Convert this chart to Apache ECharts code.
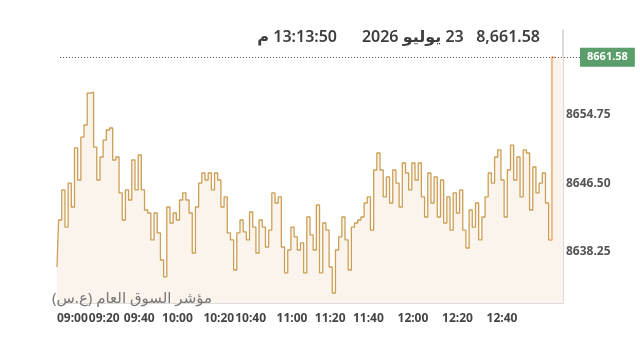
<!DOCTYPE html>
<html><head><meta charset="utf-8">
<script src="https://cdn.jsdelivr.net/npm/echarts@6/dist/echarts.min.js"></script>
<style>html,body{margin:0;padding:0;background:#fff}#c{width:640px;height:339px}</style>
</head><body>
<div id="c" dir="rtl"></div>
<script>
// ---- data ----
const indexValues = [
8636.45, 8642.08, 8645.68, 8641.24, 8646.51, 8643.64, 8650.71, 8646.87, 8652.02, 8653.46,
8657.29, 8657.41, 8650.82, 8646.87, 8649.63, 8651.66, 8652.86, 8653.10, 8649.27, 8649.63,
8645.32, 8642.08, 8645.68, 8644.48, 8649.27, 8645.68, 8649.87, 8645.68, 8643.28, 8642.92,
8639.69, 8642.92, 8640.53, 8637.29, 8635.26, 8643.64, 8641.72, 8642.92, 8642.08, 8644.48,
8645.32, 8644.48, 8642.92, 8638.13, 8643.64, 8646.51, 8647.71, 8646.87, 8647.71, 8645.68,
8647.71, 8646.87, 8643.64, 8644.84, 8640.53, 8639.69, 8636.09, 8640.53, 8642.08, 8640.65,
8639.69, 8643.04, 8641.24, 8638.13, 8642.08, 8641.24, 8638.85, 8640.88, 8645.32, 8644.12,
8644.84, 8638.85, 8635.74, 8638.49, 8641.24, 8640.05, 8638.49, 8639.33, 8635.74, 8642.44,
8640.29, 8638.49, 8643.88, 8635.74, 8641.72, 8640.88, 8636.45, 8633.34, 8638.49, 8640.05,
8642.44, 8639.69, 8636.09, 8641.24, 8641.72, 8642.08, 8642.44, 8644.12, 8644.84, 8640.88,
8648.07, 8650.11, 8648.07, 8644.84, 8647.23, 8644.12, 8648.07, 8646.51, 8643.64, 8648.91,
8647.71, 8645.68, 8648.91, 8646.87, 8648.91, 8644.84, 8642.44, 8647.71, 8644.12, 8647.23,
8642.44, 8646.87, 8641.72, 8644.84, 8640.88, 8645.32, 8642.92, 8645.68, 8640.88, 8638.73,
8643.28, 8641.24, 8644.12, 8639.69, 8642.44, 8644.84, 8647.71, 8646.51, 8649.63, 8650.47,
8646.87, 8642.44, 8648.07, 8651.06, 8646.87, 8649.63, 8644.84, 8650.47, 8650.11, 8643.28,
8648.43, 8645.32, 8646.51, 8647.71, 8644.12, 8639.69
];
const lastValue = 8661.58;
const sampleCount = 160;
const tickLabels = ['09:00','09:20','09:40','10:00','10:20','10:40','11:00','11:20','11:40','12:00','12:20','12:40'];
const tickIndex  = [0, 10, 21, 33, 46, 56, 69, 81, 93, 107, 121, 135];
const yTicks = [8638.25, 8646.50, 8654.75];
const yMin = 8632.14, yMax = 8664.84;
const headerValue = '8,661.58';
const headerDate = '23 يوليو 2026';
const headerTime = '13:13:50 م';
const indexName = 'مؤشر السوق العام (ع.س)';

// ---- build ----
const categories = Array.from({length: sampleCount}, (_, i) => i);
const lastIdx = indexValues.length - 1;
const spikeData = categories.map(i => i === lastIdx ? indexValues[lastIdx] : (i === lastIdx + 1 ? lastValue : '-'));
const tailData = categories.map(i => i > lastIdx ? lastValue : '-');
const FONT = "'Noto Sans', 'DejaVu Sans', sans-serif";
const FILL = '#faf4ed';

const chart = echarts.init(document.getElementById('c'), null, {renderer: 'canvas'});
chart.setOption({
  animation: false,
  backgroundColor: '#fff',
  textStyle: {fontFamily: FONT},
  grid: [
    {left: 57, right: 77, top: 30, bottom: 36, outerBoundsMode: 'none'},
    {left: 60, right: 60, top: 30, bottom: 36, outerBoundsMode: 'none'}
  ],
  xAxis: [{
    type: 'category', gridIndex: 0, data: categories, boundaryGap: false,
    axisLine: {show: true, lineStyle: {color: '#dcdcdc', width: 1}},
    axisTick: {show: false},
    splitLine: {show: false},
    axisLabel: {
      interval: (i) => tickIndex.indexOf(i) >= 0,
      formatter: (v, i) => { const k = tickIndex.indexOf(Number(v)); return k >= 0 ? tickLabels[k] : ''; },
      align: 'left', margin: 10, color: '#444', fontSize: 12, fontWeight: 'bold', fontFamily: FONT,
      hideOverlap: false
    }
  }, {
    type: 'value', gridIndex: 1, min: 0, max: 1, show: false
  }],
  yAxis: [{
    type: 'value', gridIndex: 0, position: 'right', min: yMin, max: yMax, scale: true,
    axisLine: {show: true, lineStyle: {color: '#cfcfcf', width: 1.5}},
    axisTick: {show: false},
    splitLine: {show: false},
    axisLabel: {customValues: yTicks, formatter: v => Number(v).toFixed(2), margin: 3,
      color: '#555', fontSize: 12, fontWeight: 'bold', fontFamily: FONT}
  }, {
    type: 'value', gridIndex: 1, min: yMin, max: yMax, scale: true, show: false
  }],
  series: [{
    type: 'line', xAxisIndex: 0, yAxisIndex: 0, data: indexValues, symbol: 'none', step: 'middle',
    lineStyle: {color: '#cc9f55', width: 1.3},
    areaStyle: {color: FILL, opacity: 1, origin: 'start'},
    z: 3
  }, {
    type: 'line', xAxisIndex: 0, yAxisIndex: 0, data: spikeData, symbol: 'none', step: 'middle',
    lineStyle: {color: '#f1b68c', width: 2},
    areaStyle: {color: FILL, opacity: 1, origin: 'start'},
    z: 4
  }, {
    type: 'line', xAxisIndex: 0, yAxisIndex: 0, data: tailData, symbol: 'none',
    lineStyle: {width: 0, opacity: 0},
    areaStyle: {color: FILL, opacity: 1, origin: 'start'},
    z: 2
  }, {
    type: 'line', xAxisIndex: 1, yAxisIndex: 1, data: [[0, lastValue]], symbol: 'none', showSymbol: false,
    lineStyle: {width: 0, opacity: 0},
    markLine: {
      silent: true, symbol: 'none',
      lineStyle: {color: '#555', width: 1, type: [1, 2]},
      label: {position: 'end', distance: 0, formatter: lastValue.toFixed(2),
        backgroundColor: '#5a9e6b', color: '#fff', fontWeight: 'bold', fontSize: 11,
        padding: [4, 7, 4, 7], fontFamily: FONT},
      data: [{yAxis: lastValue}]
    },
    z: 5
  }],
  graphic: [
    {type: 'text', x: 540, y: 37, z: 10, style: {text: headerValue + '   ' + headerDate, fill: '#3d3d3d',
      font: "600 16px " + FONT, textAlign: 'right', align: 'right', textVerticalAlign: 'middle', verticalAlign: 'middle'}},
    {type: 'text', x: 337, y: 37, z: 10, style: {text: headerTime, fill: '#3d3d3d',
      font: "600 16px " + FONT, textAlign: 'right', align: 'right', textVerticalAlign: 'middle', verticalAlign: 'middle'}},
    {type: 'text', x: 212, y: 299, z: 10, style: {text: indexName, fill: '#777',
      font: "15px " + FONT, textAlign: 'right', align: 'right', textVerticalAlign: 'middle', verticalAlign: 'middle'}}
  ]
});
</script>
</body></html>
